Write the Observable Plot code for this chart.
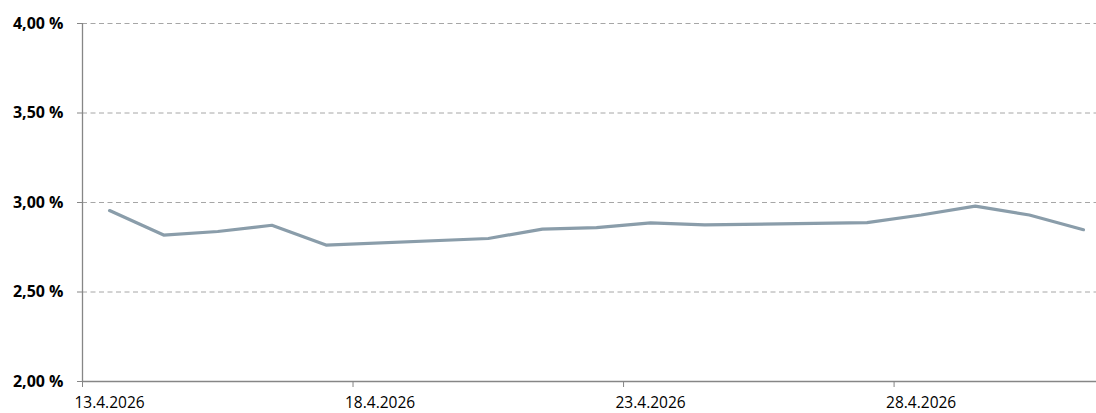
<!DOCTYPE html>
<html>
<head>
<meta charset="utf-8">
<script src="https://cdn.jsdelivr.net/npm/d3@7"></script>
<script src="https://cdn.jsdelivr.net/npm/@observablehq/plot@0.6"></script>
<style>
  html, body { margin: 0; padding: 0; background: #fff; }
  #chart svg { display: block; }
</style>
</head>
<body>
<div id="chart"></div>
<script>
// Data (weekdays only; weekends are bridged by the line)
const dates = ["2026-04-13","2026-04-14","2026-04-15","2026-04-16","2026-04-17",
               "2026-04-20","2026-04-21","2026-04-22","2026-04-23","2026-04-24",
               "2026-04-27","2026-04-28","2026-04-29","2026-04-30","2026-05-01"];
const values = [2.955, 2.818, 2.838, 2.873, 2.762,
                2.799, 2.851, 2.860, 2.886, 2.875,
                2.888, 2.930, 2.980, 2.930, 2.848];
const yTicks = [2.0, 2.5, 3.0, 3.5, 4.0];
const xTickDates = ["2026-04-13","2026-04-18","2026-04-23","2026-04-28"];
const xTickLabels = ["13.4.2026","18.4.2026","23.4.2026","28.4.2026"];
const xDomain = ["2026-04-13","2026-05-02"];

const HALF_DAY = 12 * 3600 * 1000;
const parse = s => new Date(s + "T00:00:00Z");
const mid = s => new Date(+parse(s) + HALF_DAY);

const data = dates.map((d, i) => ({date: mid(d), value: values[i]}));
const labelMap = new Map(xTickDates.map((d, i) => [+mid(d), xTickLabels[i]]));

const axisColor = "#868686";

const chart = Plot.plot({
  width: 1096,
  height: 413,
  marginLeft: 82,
  marginRight: 0,
  marginTop: 23,
  marginBottom: 32,
  style: {fontFamily: "'Open Sans', sans-serif", fontSize: "16px", color: "#000", background: "#fff"},
  x: {type: "utc", domain: xDomain.map(parse), range: [82, 1110], label: null},
  y: {domain: [2, 4], label: null},
  marks: [
    Plot.ruleY(yTicks.filter(t => t > 2), {stroke: "#a6a6a6", strokeDasharray: "5,3.5", strokeWidth: 1}),
    Plot.ruleY([2], {stroke: axisColor, strokeWidth: 1.3}),
    Plot.ruleX([parse(xDomain[0])], {stroke: axisColor, strokeWidth: 1.3}),
    Plot.axisY({ticks: yTicks, tickSize: 5, tickPadding: 14, stroke: axisColor, label: null,
      fontWeight: "bold", fill: "#000", fontSize: 16,
      tickFormat: d => d.toFixed(2).replace(".", ",") + " %"}),
    Plot.axisX({ticks: xTickDates.map(parse), tickSize: 6, stroke: axisColor, label: null, tickFormat: () => ""}),
    Plot.axisX({ticks: xTickDates.map(mid), tickSize: 0, tickPadding: 15, fill: "#000", fontSize: 15.5, label: null,
      tickFormat: d => labelMap.get(+d)}),
    Plot.line(data, {x: "date", y: "value", stroke: "#8a9daa", strokeWidth: 3.2, curve: "linear", strokeLinejoin: "round"})
  ]
});
document.getElementById("chart").appendChild(chart);
</script>
</body>
</html>
